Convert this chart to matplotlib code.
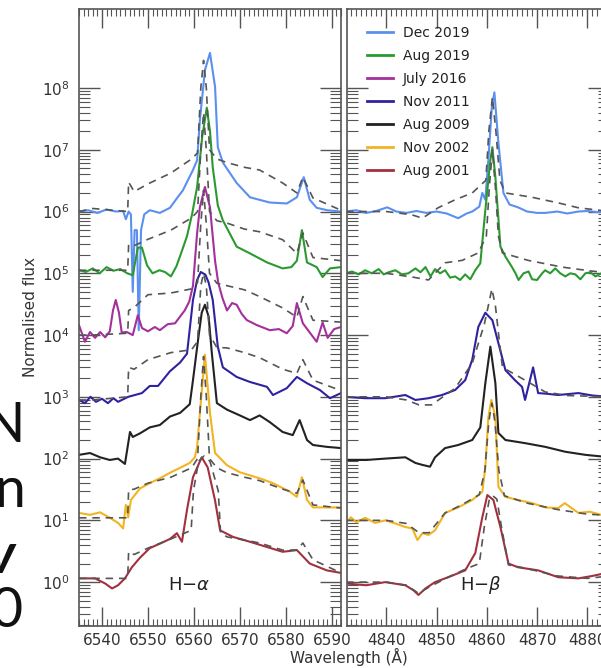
import matplotlib

matplotlib.use("Agg")
import matplotlib.pyplot as plt
import numpy as np
from matplotlib.lines import Line2D
from matplotlib.ticker import FixedLocator, LogFormatterMathtext, MultipleLocator, NullFormatter


EPOCHS = ["Dec 2019", "Aug 2019", "July 2016", "Nov 2011", "Aug 2009", "Nov 2002", "Aug 2001"]
COLOURS = ["#5b8ff0", "#2a9a30", "#a4309c", "#2f22a0", "#222222", "#f2b420", "#a3303e"]
OFFSETS = [1e6, 1e5, 1e4, 1e3, 1e2, 1e1, 1e0]

# H-alpha, observed (wavelength in A, flux normalised to the continuum)
HA_WL_DEC19 = [6535.0, 6537.0, 6539.0, 6541.0, 6543.0, 6544.6, 6545.2, 6545.8, 6546.3, 6546.7,
               6547.1, 6547.6, 6548.0, 6548.5, 6549.2, 6550.4, 6552.6, 6554.8, 6556.2, 6557.6,
               6559.8, 6560.7, 6561.3, 6562.4, 6563.5, 6564.6, 6565.2, 6566.3, 6569.3, 6572.2,
               6576.5, 6580.2, 6582.4, 6583.9, 6585.2, 6586.7, 6589.0, 6592.0]
HA_FX_DEC19 = [1.0, 1.05, 0.95, 1.08, 1.0, 1.02, 0.75, 1.0, 0.9, 0.05,
               0.5, 0.5, 0.012, 0.5, 0.9, 1.05, 0.95, 1.15, 1.6, 2.2,
               4.7, 6.8, 30.0, 195.0, 370.0, 105.0, 11.0, 6.2, 2.9, 1.7,
               1.4, 1.35, 1.7, 3.6, 1.55, 1.15, 1.05, 1.0]

HA_WL_AUG19 = [6535.0, 6536.5, 6538.0, 6539.5, 6541.0, 6542.5, 6544.0, 6545.5, 6546.7, 6547.8,
               6548.7, 6549.8, 6551.0, 6552.5, 6553.7, 6555.0, 6556.2, 6557.3, 6558.5, 6559.6,
               6560.7, 6561.8, 6562.8, 6563.5, 6564.1, 6565.2, 6566.3, 6569.3, 6572.2, 6575.9,
               6579.3, 6581.2, 6582.4, 6583.5, 6584.6, 6586.7, 6588.0, 6589.6, 6592.0]
HA_FX_AUG19 = [1.12, 1.05, 1.2, 1.0, 1.26, 1.1, 1.17, 1.0, 0.93, 2.6,
               2.6, 1.35, 1.0, 1.12, 1.05, 0.89, 1.3, 2.2, 4.0, 9.0,
               25.0, 160.0, 480.0, 200.0, 52.0, 12.6, 7.2, 2.7, 2.1, 1.5,
               1.2, 1.26, 1.6, 5.0, 1.5, 1.26, 0.87, 1.2, 1.26]

HA_WL_JUL16 = [6535.0, 6536.3, 6537.4, 6538.5, 6539.6, 6540.7, 6541.7, 6542.4, 6543.0, 6543.7,
               6544.3, 6545.4, 6546.7, 6547.8, 6548.7, 6550.0, 6551.5, 6552.6, 6554.3, 6555.9,
               6557.0, 6558.0, 6559.0, 6559.8, 6560.7, 6561.3, 6562.4, 6563.5, 6564.6, 6565.3,
               6566.2, 6567.2, 6568.3, 6569.3, 6570.4, 6571.5, 6573.7, 6576.5, 6578.5, 6580.2,
               6581.5, 6582.4, 6583.7, 6585.2, 6586.7, 6588.0, 6589.1, 6590.5, 6592.0]
HA_FX_JUL16 = [1.45, 0.78, 1.12, 0.9, 1.12, 0.92, 1.15, 2.5, 3.7, 2.3,
               1.1, 1.12, 1.0, 2.1, 1.3, 1.15, 1.35, 1.2, 1.5, 1.55,
               2.0, 2.5, 3.5, 6.3, 45.0, 117.0, 250.0, 117.0, 16.0, 7.0,
               4.0, 2.5, 3.3, 3.1, 2.2, 1.75, 1.45, 1.2, 1.25, 1.07,
               1.4, 3.3, 1.55, 1.1, 0.78, 1.6, 0.9, 1.25, 1.35]

HA_WL_NOV11 = [6535.0, 6536.3, 6537.5, 6538.7, 6540.0, 6541.3, 6542.5, 6543.5, 6545.7, 6548.7,
               6550.4, 6552.2, 6554.8, 6557.0, 6558.5, 6559.8, 6560.7, 6561.5, 6562.5, 6563.2,
               6564.1, 6565.2, 6566.3, 6569.3, 6572.2, 6575.9, 6577.2, 6580.2, 6582.4, 6584.6,
               6587.4, 6589.6, 6592.0]
HA_FX_NOV11 = [0.89, 0.79, 1.0, 0.83, 0.93, 0.79, 0.95, 0.83, 1.0, 1.15,
               1.5, 1.5, 2.6, 3.6, 5.0, 37.0, 78.0, 105.0, 95.0, 71.0,
               37.0, 6.5, 3.0, 2.1, 1.74, 1.45, 1.07, 1.38, 2.1, 1.66,
               1.29, 0.95, 1.15]

HA_WL_AUG09 = [6535.0, 6537.4, 6539.6, 6541.7, 6543.5, 6545.0, 6546.1, 6546.7, 6548.3, 6550.4,
               6552.6, 6554.8, 6557.0, 6559.1, 6559.8, 6560.9, 6561.7, 6562.4, 6563.2, 6563.9,
               6565.0, 6567.2, 6570.0, 6572.2, 6574.3, 6576.5, 6579.3, 6581.5, 6583.0, 6584.6,
               6585.9, 6588.9, 6592.0]
HA_FX_AUG09 = [1.15, 1.23, 1.05, 0.95, 1.0, 0.82, 2.7, 2.24, 2.57, 3.2,
               3.5, 4.8, 5.5, 7.6, 18.6, 83.0, 230.0, 310.0, 200.0, 51.0,
               7.9, 6.2, 5.0, 4.2, 5.0, 3.9, 2.7, 2.4, 4.2, 2.0,
               1.66, 1.55, 1.48]

HA_WL_NOV02 = [6535.0, 6537.4, 6539.6, 6541.7, 6543.5, 6544.6, 6545.2, 6545.7, 6546.3, 6548.3,
               6550.4, 6552.6, 6554.8, 6557.0, 6559.1, 6560.2, 6560.7, 6561.3, 6562.4, 6563.5,
               6564.6, 6567.2, 6570.0, 6574.3, 6577.2, 6580.9, 6582.4, 6583.5, 6584.6, 6585.9,
               6588.9, 6592.0]
HA_FX_NOV02 = [1.32, 1.23, 1.35, 1.1, 0.91, 0.74, 1.78, 1.12, 2.14, 3.3,
               4.0, 4.8, 5.9, 7.1, 8.5, 10.5, 15.5, 55.0, 480.0, 55.0,
               12.3, 7.8, 6.0, 4.8, 4.0, 2.9, 2.4, 5.0, 2.14, 1.62,
               1.62, 1.62]

HA_WL_AUG01 = [6535.0, 6538.5, 6540.7, 6542.2, 6543.5, 6545.0, 6546.5, 6548.3, 6550.4, 6552.6,
               6554.8, 6556.3, 6557.4, 6558.5, 6559.8, 6561.7, 6563.0, 6564.6, 6565.7, 6568.5,
               6572.2, 6575.9, 6579.3, 6582.4, 6585.2, 6588.9, 6592.0]
HA_FX_AUG01 = [1.15, 1.15, 0.95, 0.79, 0.89, 1.15, 1.74, 2.5, 3.55, 4.2,
               5.0, 6.2, 4.5, 14.8, 50.0, 105.0, 72.0, 21.0, 6.9, 5.4,
               4.5, 3.7, 3.1, 3.3, 2.0, 1.55, 1.41]

# H-alpha, model fits (dashed)
HA_MOD_WL = [6535.0, 6538.0, 6545.6, 6545.8, 6547.0, 6550.0, 6555.0, 6559.5, 6560.8, 6561.5,
             6562.1, 6562.7, 6563.4, 6565.0, 6567.2, 6571.0, 6574.3, 6579.3, 6582.4, 6583.7,
             6585.9, 6592.0]
HA_MOD_DEC19 = [1.0, 1.12, 1.0, 3.0, 2.1, 2.8, 4.2, 7.1, 8.9, 100.0,
                280.0, 100.0, 10.0, 7.1, 6.2, 5.2, 4.7, 2.9, 2.0, 3.6,
                1.66, 1.05]
HA_MOD_AUG19 = [1.12, 1.12, 1.12, 2.9, 2.8, 3.55, 5.0, 7.9, 10.0, 100.0,
                400.0, 100.0, 10.0, 7.1, 6.5, 5.2, 4.7, 3.5, 2.1, 4.5,
                1.8, 1.6]
HA_MOD_JUL16 = [1.0, 1.0, 1.07, 2.5, 2.8, 4.5, 4.8, 5.6, 7.1, 63.0,
                220.0, 63.0, 10.0, 6.9, 6.3, 5.4, 4.2, 2.75, 1.95, 4.2,
                1.74, 1.62]
HA_MOD_NOV11 = [0.89, 0.89, 1.0, 3.0, 2.8, 4.0, 5.2, 5.8, 7.9, 63.0,
                100.0, 63.0, 10.0, 6.3, 6.2, 5.2, 4.3, 2.8, 2.4, 4.0,
                1.86, 1.26]
HA_MOD_NOV02 = [1.1, 1.1, 1.1, 3.1, 3.2, 4.0, 5.0, 7.1, 10.0, 100.0,
                450.0, 100.0, 10.0, 7.1, 5.9, 5.0, 4.4, 3.2, 2.75, 4.5,
                1.78, 1.58]
HA_MOD_WL_AUG01 = [6535.0, 6538.0, 6545.6, 6545.8, 6547.0, 6550.0, 6555.0, 6559.4, 6559.9, 6561.0,
                   6562.2, 6563.5, 6565.3, 6565.8, 6567.2, 6571.0, 6574.3, 6579.3, 6582.4, 6583.7,
                   6585.9, 6592.0]
HA_MOD_AUG01 = [1.15, 1.15, 1.15, 3.1, 2.8, 3.55, 5.0, 6.9, 30.0, 90.0,
                110.0, 90.0, 30.0, 6.3, 5.4, 4.8, 4.3, 3.3, 3.3, 4.3,
                2.3, 1.41]

# H-beta, observed
HB_WL_DEC19 = [4832.0, 4834.0, 4836.0, 4838.0, 4840.2, 4842.0, 4844.0, 4846.0, 4848.0, 4850.0,
               4852.0, 4854.3, 4856.0, 4857.1, 4858.5, 4859.1, 4859.7, 4860.3, 4861.0, 4861.5,
               4862.3, 4863.3, 4864.5, 4866.2, 4868.0, 4870.0, 4871.6, 4874.0, 4876.0, 4878.2,
               4880.0, 4882.0, 4884.5]
HB_FX_DEC19 = [1.0, 1.05, 0.95, 1.02, 1.17, 1.0, 0.95, 1.02, 0.95, 1.0,
               0.93, 0.78, 0.93, 1.0, 1.2, 2.0, 1.55, 6.8, 50.0, 85.0,
               13.0, 2.0, 1.3, 1.17, 1.0, 0.95, 0.95, 1.0, 0.93, 1.0,
               1.02, 0.98, 1.0]

HB_WL_AUG19 = [4831.9, 4833.2, 4834.5, 4835.8, 4837.1, 4838.5, 4839.5, 4840.5, 4841.8, 4843.1,
               4844.4, 4845.8, 4846.8, 4847.8, 4848.8, 4849.7, 4850.7, 4851.7, 4852.7, 4853.7,
               4854.7, 4855.7, 4856.7, 4857.7, 4858.7, 4859.7, 4860.7, 4861.1, 4861.7, 4862.7,
               4863.7, 4865.0, 4865.7, 4866.3, 4867.3, 4868.3, 4869.0, 4870.0, 4871.0, 4871.6,
               4872.6, 4873.6, 4874.6, 4875.6, 4876.6, 4877.6, 4878.6, 4879.6, 4880.6, 4881.6,
               4882.8, 4884.5]
HB_FX_AUG19 = [1.0, 1.07, 0.96, 1.12, 1.0, 1.17, 0.96, 1.04, 1.12, 0.96,
               1.0, 1.2, 1.04, 1.26, 0.89, 1.17, 1.0, 1.12, 0.85, 0.89,
               0.78, 0.96, 0.8, 1.12, 1.45, 10.5, 68.0, 110.0, 36.0, 2.7,
               1.86, 1.26, 1.0, 0.78, 1.0, 1.07, 0.8, 0.78, 1.0, 1.12,
               1.0, 1.2, 1.0, 0.89, 1.0, 0.96, 0.8, 1.0, 1.04, 0.89,
               1.0, 1.0]

HB_WL_NOV11 = [4832.0, 4835.8, 4839.8, 4843.8, 4845.8, 4848.4, 4851.1, 4853.7, 4855.7, 4857.1,
               4858.3, 4859.7, 4861.1, 4862.3, 4863.7, 4865.6, 4867.0, 4867.6, 4869.2, 4870.2,
               4872.0, 4874.2, 4878.2, 4881.0, 4884.5]
HB_FX_NOV11 = [1.0, 0.95, 0.95, 1.07, 0.89, 0.95, 1.07, 1.29, 1.86, 4.0,
               13.5, 23.0, 17.4, 7.4, 2.7, 1.86, 1.45, 0.89, 3.0, 1.15,
               1.12, 1.07, 1.15, 1.05, 1.0]

HB_WL_AUG09 = [4832.0, 4836.0, 4839.8, 4843.8, 4845.8, 4847.2, 4848.7, 4849.7, 4851.7, 4854.3,
               4857.1, 4858.7, 4859.7, 4860.7, 4861.7, 4862.3, 4863.7, 4867.6, 4871.6, 4875.6,
               4879.6, 4884.5]
HB_FX_AUG09 = [0.95, 0.95, 1.0, 1.05, 0.85, 0.79, 0.74, 1.05, 1.48, 1.66,
               2.0, 3.2, 16.6, 65.0, 16.6, 2.6, 2.0, 1.78, 1.55, 1.29,
               1.15, 1.05]

HB_WL_NOV02 = [4832.0, 4833.0, 4834.0, 4835.8, 4837.8, 4839.8, 4841.8, 4843.8, 4845.2, 4846.2,
               4847.2, 4848.4, 4849.7, 4851.7, 4854.3, 4857.1, 4859.1, 4859.7, 4860.3, 4860.9,
               4861.7, 4862.3, 4863.7, 4866.2, 4869.0, 4871.6, 4874.2, 4875.5, 4878.2, 4880.5,
               4882.7, 4884.5]
HB_FX_NOV02 = [0.93, 1.12, 0.93, 1.1, 0.91, 1.0, 0.89, 0.78, 0.74, 0.48,
               0.62, 0.58, 0.69, 1.32, 1.62, 2.14, 2.9, 7.2, 47.0, 89.0,
               47.0, 3.5, 2.4, 2.14, 1.9, 1.62, 1.58, 1.9, 1.32, 1.38,
               1.23, 1.26]

HB_WL_AUG01 = [4832.0, 4836.0, 4839.8, 4843.8, 4845.4, 4846.4, 4847.8, 4849.7, 4852.3, 4855.7,
               4857.7, 4859.1, 4860.1, 4861.3, 4862.7, 4864.3, 4866.2, 4870.2, 4874.2, 4878.2,
               4881.0, 4884.5]
HB_FX_AUG01 = [0.95, 0.89, 1.0, 0.89, 0.74, 0.62, 0.79, 1.0, 1.2, 1.55,
               2.95, 11.2, 25.7, 21.4, 7.8, 2.0, 1.74, 1.55, 1.2, 1.15,
               1.26, 1.45]

# H-beta, model fits (dashed)
HB_MOD_WL_DEC19 = [4832.0, 4840.0, 4845.0, 4847.2, 4850.3, 4853.7, 4857.1, 4859.8, 4860.4, 4861.1,
                   4861.8, 4862.6, 4863.7, 4869.0, 4874.2, 4878.2, 4884.5]
HB_MOD_DEC19 = [1.0, 1.0, 0.89, 0.78, 1.15, 1.55, 2.0, 3.2, 20.0, 71.0,
                20.0, 3.2, 2.0, 1.7, 1.38, 1.15, 1.0]
HB_MOD_WL_AUG19 = [4832.0, 4840.0, 4845.2, 4848.4, 4851.7, 4855.1, 4858.3, 4859.9, 4860.5, 4861.1,
                   4861.7, 4862.3, 4863.1, 4868.2, 4875.0, 4879.6, 4884.5]
HB_MOD_AUG19 = [1.0, 1.0, 0.87, 0.78, 1.48, 1.62, 2.14, 4.0, 25.0, 100.0,
                25.0, 4.0, 2.14, 1.62, 1.26, 1.12, 1.0]
HB_MOD_WL_NOV11 = [4832.0, 4840.0, 4844.0, 4846.5, 4849.0, 4853.7, 4857.1, 4859.5, 4860.3, 4861.0,
                   4861.7, 4862.5, 4863.1, 4867.6, 4871.6, 4876.0, 4884.5]
HB_MOD_NOV11 = [1.0, 1.0, 0.89, 0.74, 0.74, 1.38, 3.5, 15.0, 30.0, 56.0,
                30.0, 7.9, 3.0, 1.86, 1.2, 1.05, 1.0]
HB_MOD_WL_NOV02 = [4832.0, 4840.0, 4844.0, 4846.5, 4848.5, 4851.7, 4855.0, 4858.5, 4859.6, 4860.4,
                   4861.0, 4861.6, 4862.4, 4863.5, 4868.0, 4874.0, 4880.0, 4884.5]
HB_MOD_NOV02 = [1.0, 1.0, 0.89, 0.63, 0.63, 1.32, 1.78, 2.6, 6.3, 40.0,
                79.0, 40.0, 6.3, 2.5, 1.9, 1.5, 1.26, 1.2]
HB_MOD_WL_AUG01 = [4832.0, 4840.0, 4844.0, 4846.4, 4848.5, 4852.3, 4856.0, 4858.5, 4859.5, 4860.5,
                   4861.2, 4862.0, 4862.9, 4864.3, 4868.0, 4874.0, 4880.0, 4884.5]
HB_MOD_AUG01 = [1.0, 1.0, 0.89, 0.66, 0.83, 1.2, 1.66, 2.0, 7.9, 22.0,
                25.0, 22.0, 7.9, 1.9, 1.66, 1.26, 1.15, 1.26]


def style_axis(ax, xlim):
    ax.set_yscale("log")
    ax.set_xlim(*xlim)
    ax.set_ylim(0.195, 1.9e9)
    ax.xaxis.set_major_locator(MultipleLocator(10))
    ax.xaxis.set_minor_locator(MultipleLocator(1))
    ax.yaxis.set_major_locator(FixedLocator([10.0 ** k for k in range(0, 9)]))
    ax.yaxis.set_minor_locator(FixedLocator([m * 10.0 ** k for k in range(-1, 8) for m in range(2, 10)]))
    ax.yaxis.set_major_formatter(LogFormatterMathtext())
    ax.yaxis.set_minor_formatter(NullFormatter())
    ax.tick_params(which="both", direction="in", top=True, right=True,
                   color="#555555", labelcolor="#333333", labelsize=11)
    ax.tick_params(axis="x", which="major", length=14, width=1.0, pad=5)
    ax.tick_params(axis="x", which="minor", length=5, width=0.8)
    ax.tick_params(axis="y", which="major", length=15, width=1.0, pad=7)
    ax.tick_params(axis="y", which="minor", length=8, width=0.8)
    for spine in ax.spines.values():
        spine.set_color("#555555")
        spine.set_linewidth(1.2)


def draw_panel(ax, observed, models):
    for colour, offset, spec, model in zip(COLOURS, OFFSETS, observed, models):
        if spec is not None:
            wl, fx = spec
            ax.plot(wl, np.asarray(fx) * offset, color=colour, lw=1.5, zorder=2)
        if model is not None:
            wl, fx = model
            ax.plot(wl, np.asarray(fx) * offset, color="#555555", lw=1.2,
                    ls=(0, (4.5, 3.5)), zorder=3)


def main() -> None:
    ha_obs = [(HA_WL_DEC19, HA_FX_DEC19), (HA_WL_AUG19, HA_FX_AUG19), (HA_WL_JUL16, HA_FX_JUL16),
              (HA_WL_NOV11, HA_FX_NOV11), (HA_WL_AUG09, HA_FX_AUG09), (HA_WL_NOV02, HA_FX_NOV02),
              (HA_WL_AUG01, HA_FX_AUG01)]
    ha_mod = [(HA_MOD_WL, HA_MOD_DEC19), (HA_MOD_WL, HA_MOD_AUG19), (HA_MOD_WL, HA_MOD_JUL16),
              (HA_MOD_WL, HA_MOD_NOV11), None, (HA_MOD_WL, HA_MOD_NOV02),
              (HA_MOD_WL_AUG01, HA_MOD_AUG01)]
    hb_obs = [(HB_WL_DEC19, HB_FX_DEC19), (HB_WL_AUG19, HB_FX_AUG19), None,
              (HB_WL_NOV11, HB_FX_NOV11), (HB_WL_AUG09, HB_FX_AUG09), (HB_WL_NOV02, HB_FX_NOV02),
              (HB_WL_AUG01, HB_FX_AUG01)]
    hb_mod = [(HB_MOD_WL_DEC19, HB_MOD_DEC19), (HB_MOD_WL_AUG19, HB_MOD_AUG19), None,
              (HB_MOD_WL_NOV11, HB_MOD_NOV11), None, (HB_MOD_WL_NOV02, HB_MOD_NOV02),
              (HB_MOD_WL_AUG01, HB_MOD_AUG01)]

    fig = plt.figure(figsize=(6.01, 6.68), dpi=100)
    ax_a = fig.add_axes([0.1314, 0.0629, 0.4360, 0.9236])
    ax_b = fig.add_axes([0.5774, 0.0629, 0.4360, 0.9236])

    draw_panel(ax_a, ha_obs, ha_mod)
    draw_panel(ax_b, hb_obs, hb_mod)
    style_axis(ax_a, (6535, 6592))
    style_axis(ax_b, (4832.2, 4884.3))
    ax_b.tick_params(labelleft=False)

    ax_a.text(6558.9, 0.9, r"H$-\alpha$", fontsize=13, color="#222222", ha="center", va="center")
    ax_b.text(4858.7, 0.9, r"H$-\beta$", fontsize=13, color="#222222", ha="center", va="center")

    handles = [Line2D([], [], color=c, lw=2) for c in COLOURS]
    ax_b.legend(handles, EPOCHS, loc="upper left", bbox_to_anchor=(0.075, 0.972),
                frameon=False, fontsize=10, labelspacing=0.64, handlelength=1.9,
                handletextpad=0.7, borderpad=0, borderaxespad=0, labelcolor="#222222")

    fig.text(0.05, 0.525, "Normalised flux", rotation=90, fontsize=11,
             color="#333333", ha="center", va="center")
    fig.text(0.581, 0.0165, "Wavelength (Å)", fontsize=11, color="#333333",
             ha="center", va="center")

    # ends of the slide text lines behind the figure
    slide = dict(fontsize=40, ha="right", va="baseline", color="#111111",
                 family=["Lato", "DejaVu Sans"], fontweight="normal")
    fig.text(25 / 601, 1 - 442 / 668, "N", **slide)
    fig.text(25 / 601, 1 - 507 / 668, "n", **slide)
    fig.text(22 / 601, 1 - 627 / 668, "0", **slide)
    fig.text(15 / 601, 1 - 573 / 668, "v", fontsize=40, ha="right", va="baseline",
             fontweight="bold", fontstyle="italic", color="#111111",
             family=["Lato", "DejaVu Sans"])

    fig.savefig("out.png", dpi=100)


if __name__ == "__main__":
    main()
